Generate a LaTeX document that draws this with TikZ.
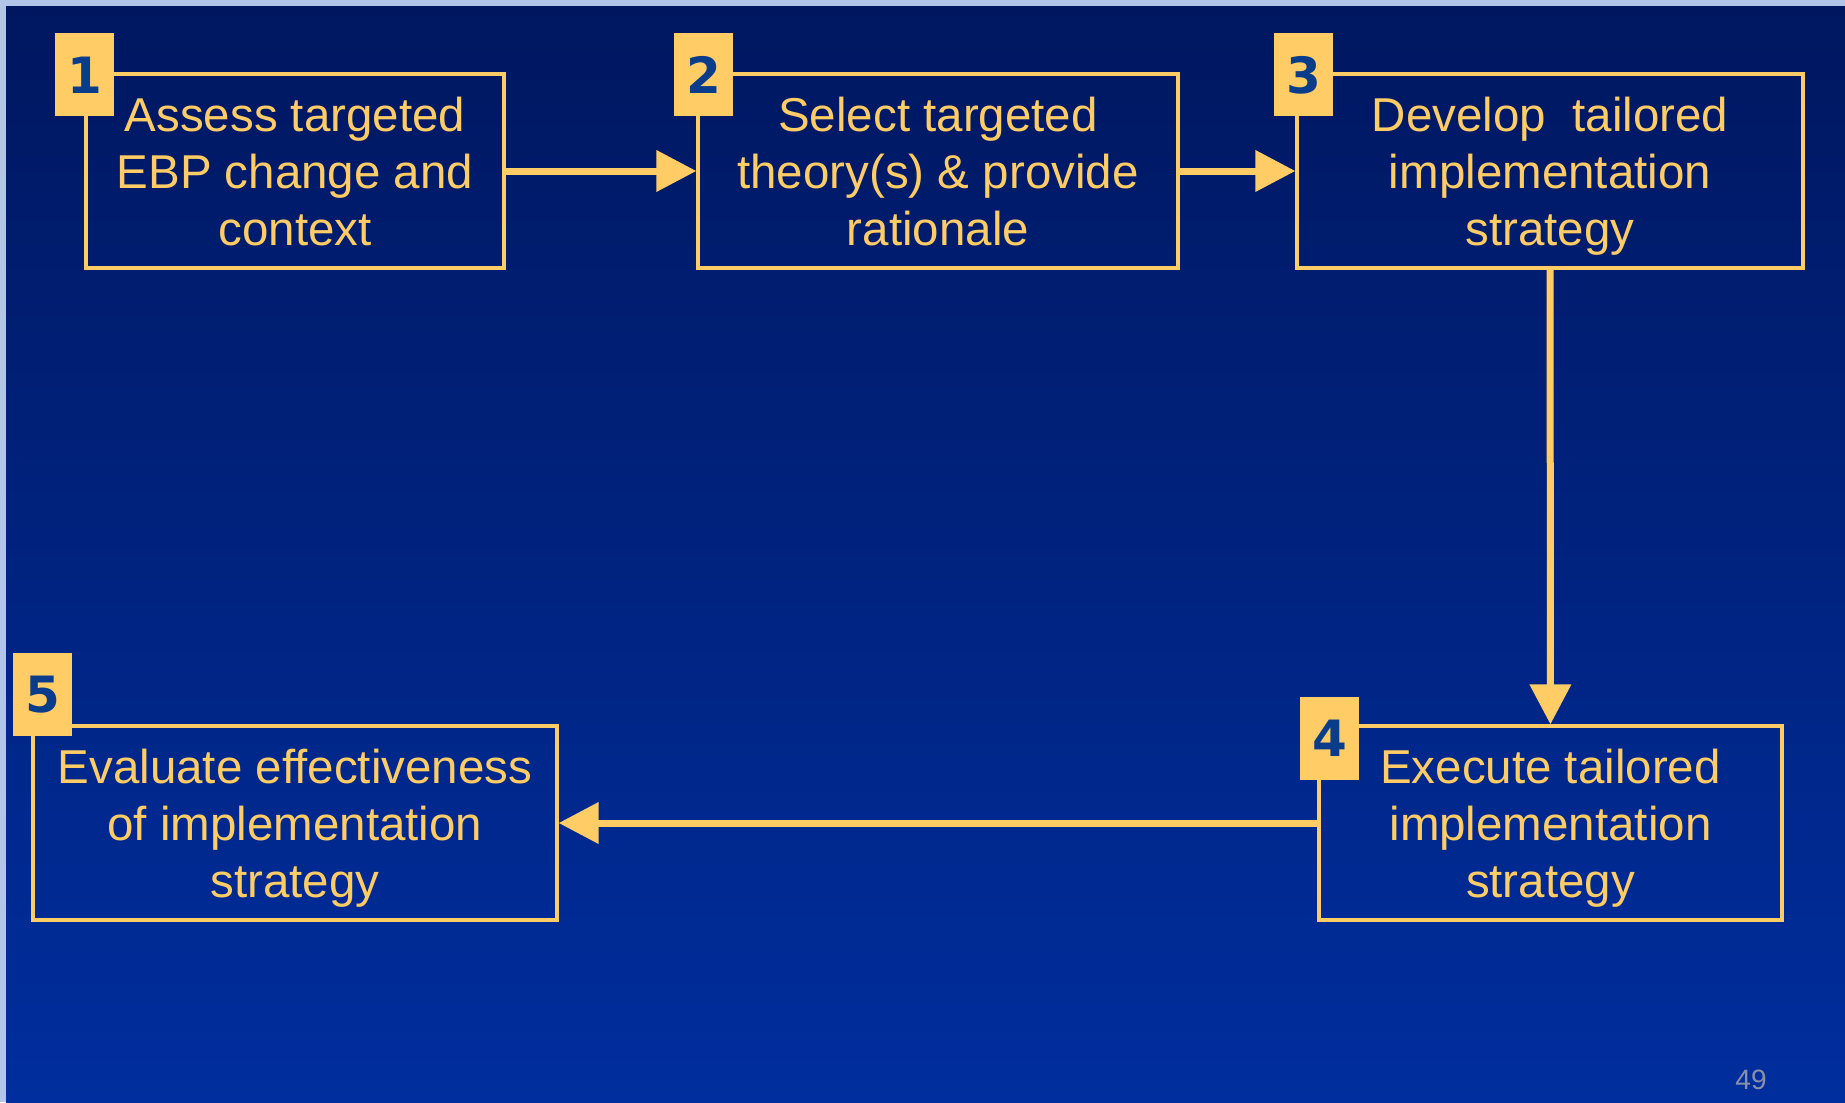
\documentclass[tikz,border=0pt]{standalone}
\usepackage{fontspec}
\setmainfont{Liberation Sans}
\newfontfamily\badgefont{DejaVu Sans}
\usetikzlibrary{arrows.meta}

\definecolor{slidetop}{HTML}{001760}
\definecolor{slidebot}{HTML}{002E9E}
\definecolor{frameblue}{HTML}{B2C7E8}
\definecolor{gold}{HTML}{FFCC66}
\definecolor{digitblue}{HTML}{0A3C8C}
\definecolor{pagegray}{HTML}{8A90A8}

\begin{document}
\begin{tikzpicture}[x=0.5pt, y=-0.5pt,
  box/.style={rectangle, draw=gold, line width=1.6pt, text=gold, align=center,
              minimum height=97pt, inner sep=0pt, text depth=-1.8pt,
              font=\fontsize{23.75}{28.5}\selectfont},
  badge/.style={rectangle, fill=gold, minimum width=29.5pt, minimum height=41.5pt,
                inner sep=0pt, text=digitblue,
                font=\badgefont\bfseries\fontsize{25}{25}\selectfont},
  arr/.style={-{Triangle[length=20pt, width=20pt]}, draw=gold, line width=3.5pt}
]
% slide background
\fill[frameblue] (0,0) rectangle (1845,1102);
\shade[top color=slidetop, bottom color=slidebot] (6,7) rectangle (1845,1102);
\useasboundingbox (0,0) rectangle (1845,1102);

% steps
\node[box, minimum width=209pt] (assess) at (295,171)
  {Assess targeted\\EBP change and\\context};
\node[box, minimum width=240pt] (select) at (938,171)
  {Select targeted\\theory(s) \& provide\\rationale};
\node[box, minimum width=253pt] (develop) at (1550,171)
  {Develop\ \ tailored\\implementation\\strategy};
\node[box, minimum width=231.5pt] (execute) at (1550.5,823)
  {Execute tailored\\implementation\\strategy};
\node[box, minimum width=262pt] (evaluate) at (295,823)
  {Evaluate effectiveness\\of implementation\\strategy};

\draw[arr] (assess) -- (select);
\draw[arr] (select) -- (develop);
\draw[arr] (develop) -- (execute);
\draw[arr] (execute) -- (evaluate);

% step numbers
\node[badge] (n1) at (84.5,75) {1};
\node[badge] (n2) at (703.5,75) {2};
\node[badge] (n3) at (1303.5,75) {3};
\node[badge] (n4) at (1329.5,738.5) {4};
\node[badge] (n5) at (42.5,694.5) {5};

\node[text=pagegray, font=\fontsize{14}{14}\selectfont] (page) at (1751,1080) {49};
\end{tikzpicture}
\end{document}
